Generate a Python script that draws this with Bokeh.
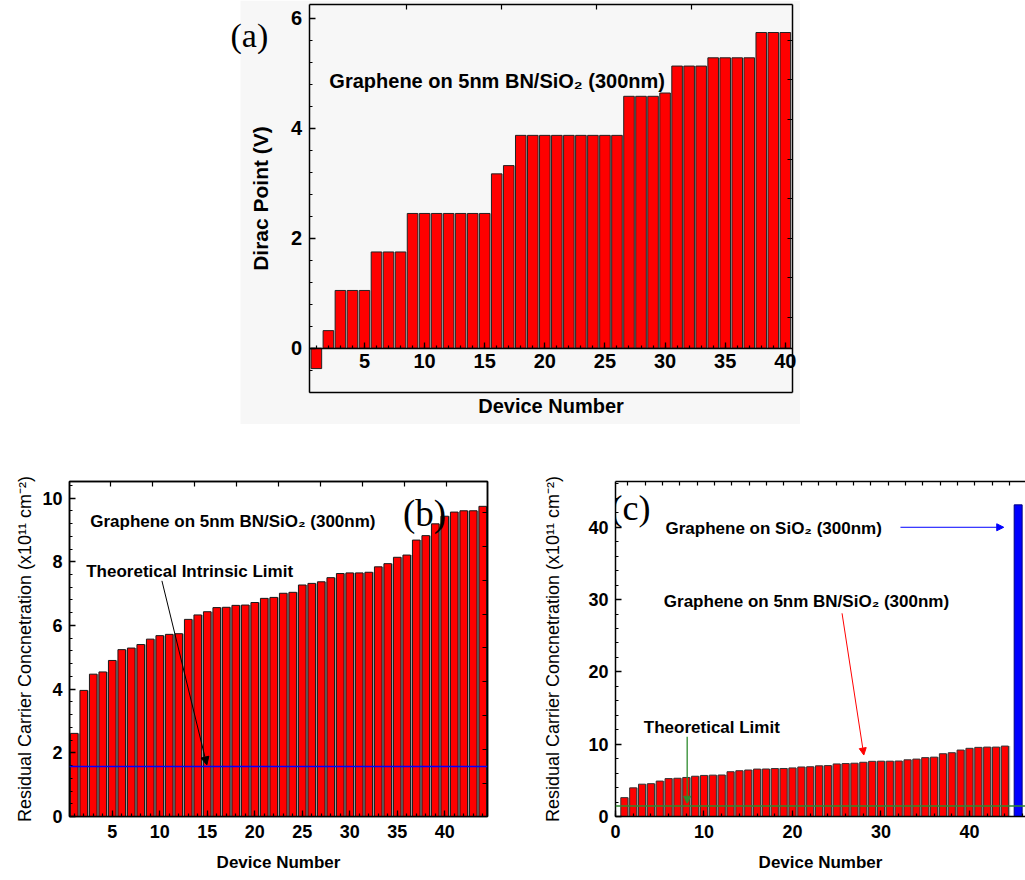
from bokeh.plotting import figure
from bokeh.models import (Range1d, LinearAxis, FixedTicker, SingleIntervalTicker, Span, Label,
                          Arrow, NormalHead, ColumnDataSource, Spacer, BoxAnnotation)
from bokeh.layouts import column, row
from bokeh.transform import dodge
from bokeh.embed import file_html
from bokeh.resources import INLINE
import numpy as np

# ---------------- data ----------------
device_a = list(range(1, 41))
dirac_point = [-0.37, 0.32, 1.05, 1.05, 1.05, 1.75, 1.75, 1.75,
               2.45, 2.45, 2.45, 2.45, 2.45, 2.45, 2.45, 3.17, 3.32,
               3.87, 3.87, 3.87, 3.87, 3.87, 3.87, 3.87, 3.87, 3.87,
               4.58, 4.58, 4.58, 4.64, 5.13, 5.13, 5.13,
               5.28, 5.28, 5.28, 5.28, 5.74, 5.74, 5.74]

device_b = list(range(1, 45))
residual = [2.61, 3.96, 4.47, 4.54, 4.90, 5.24, 5.29, 5.40, 5.57, 5.68, 5.72, 5.74,
            6.19, 6.33, 6.43, 6.56, 6.57, 6.63, 6.64, 6.72, 6.85, 6.88, 7.01, 7.04,
            7.27, 7.32, 7.37, 7.50, 7.63, 7.65, 7.65, 7.67, 7.84, 7.94, 8.14, 8.21,
            8.68, 8.82, 9.19, 9.43, 9.56, 9.60, 9.60, 9.74]

sio2_device = [45.5]
sio2_value = [43.1]

limit_b = 1.57
limit_c = 1.45

label_bn = "Graphene on 5nm BN/SiO\u2082 (300nm)"
label_sio2 = "Graphene on SiO\u2082 (300nm)"
label_intrinsic = "Theoretical Intrinsic Limit"
label_limit = "Theoretical Limit"
ylabel_a = "Dirac Point (V)"
ylabel_bc = "Residual Carrier Concnetration (x10\u00b9\u00b9 cm\u207b\u00b2)"
xlabel = "Device Number"

FONT = "Liberation Sans"
SERIF = "Liberation Serif"


def style_axis(ax, tick_size="18px", label_size="17px", label_bold=True):
    ax.major_label_text_font = FONT
    ax.major_label_text_font_style = "bold"
    ax.major_label_text_font_size = tick_size
    ax.major_label_text_color = "black"
    ax.axis_label_text_font = FONT
    ax.axis_label_text_font_style = "bold" if label_bold else "normal"
    ax.axis_label_text_font_size = label_size
    ax.axis_label_text_color = "black"
    ax.major_tick_in = 6
    ax.major_tick_out = 0
    ax.minor_tick_in = 3
    ax.minor_tick_out = 0
    ax.axis_line_width = 1.5
    ax.axis_line_color = "black"
    ax.major_tick_line_width = 1.3
    ax.minor_tick_line_width = 1.2


def tick_axis(ticks, length=5, **kw):
    return LinearAxis(ticker=FixedTicker(ticks=[float(t) for t in ticks]),
                      major_label_text_color=None, major_label_standoff=0,
                      major_tick_in=length, major_tick_out=0,
                      minor_tick_in=0, minor_tick_out=0,
                      axis_line_width=1.5, major_tick_line_width=1.2, **kw)


def add_label(p, x, y, text, size, font=FONT, bold=True, color="black"):
    p.add_layout(Label(x=x, y=y, text=text, text_font=font, text_font_size=size,
                       text_font_style="bold" if bold else "normal",
                       text_baseline="middle", text_align="left", text_color=color))


# ---------------- panel (a) ----------------
# the frame covers the whole figure; the visible axes box is drawn by fixed axes
BG_A = "#f7f7f7"
XA0, XA1 = 0.4, 40.6
YA0, YA1 = -0.805, 6.249
pa = figure(width=572, height=424, x_range=Range1d(-6.308, 41.263), y_range=Range1d(-1.387, 6.322),
            output_backend="svg", toolbar_location=None,
            x_axis_location=None, y_axis_location=None, min_border=0,
            background_fill_color="white", border_fill_color="white")
pa.grid.visible = False
pa.outline_line_color = None
pa.add_layout(BoxAnnotation(left=-5.31, fill_color=BG_A, fill_alpha=1.0,
                            line_color=None, level="underlay"))

src_a = ColumnDataSource(dict(x=device_a, top=dirac_point))
pa.vbar(x="x", top="top", bottom=0, width=0.88, source=src_a,
        fill_color="#ff0000", line_color="#222222", line_width=1)

ax_left = LinearAxis(fixed_location=XA0, bounds=(YA0, YA1),
                     ticker=SingleIntervalTicker(interval=2, num_minor_ticks=5),
                     axis_label=ylabel_a)
style_axis(ax_left, "20px", "21px")
ax_left.major_label_standoff = 7
ax_left.axis_label_standoff = 16
pa.add_layout(ax_left, "left")

ax_zero = LinearAxis(fixed_location=0, bounds=(XA0, XA1),
                     ticker=SingleIntervalTicker(interval=5, num_minor_ticks=5))
style_axis(ax_zero, "20px", "20px")
ax_zero.major_label_standoff = 6
pa.add_layout(ax_zero, "below")

ax_bottom = LinearAxis(fixed_location=YA0, bounds=(XA0, XA1), ticker=FixedTicker(ticks=[]),
                       axis_label=xlabel)
style_axis(ax_bottom, "20px", "20px")
ax_bottom.major_label_standoff = 0
ax_bottom.axis_label_standoff = 2
pa.add_layout(ax_bottom, "below")

pa.add_layout(tick_axis(np.arange(8.5, 40, 7.9), fixed_location=YA1, bounds=(XA0, XA1)), "above")
pa.add_layout(tick_axis(np.arange(0.56, 6.0, 0.72), fixed_location=XA1, bounds=(YA0, YA1)), "right")

add_label(pa, -6.14, 5.69, "(a)", "34px", font=SERIF, bold=False)
add_label(pa, 2.08, 4.85, label_bn, "20px")

# ---------------- panel (b) ----------------
pb = figure(width=535, height=456, x_range=Range1d(0.5, 44.5), y_range=Range1d(0, 10.52),
            output_backend="svg", toolbar_location=None,
            min_border_left=69, min_border_right=48, min_border_top=54, min_border_bottom=64)
pb.grid.visible = False
pb.outline_line_color = "black"
pb.outline_line_width = 1.5

src_b = ColumnDataSource(dict(x=device_b, top=residual))
pb.vbar(x=dodge("x", 0.2), top="top", bottom=0, width=0.8, source=src_b,
        fill_color="#a8a8a8", line_color=None)
pb.vbar(x="x", top="top", bottom=0, width=0.8, source=src_b,
        fill_color="#ff0000", line_color="#1a1a1a", line_width=1)
pb.add_layout(Span(location=limit_b, dimension="width", line_color="#0000ff", line_width=1.5))

pb.xaxis.ticker = SingleIntervalTicker(interval=5, num_minor_ticks=5)
pb.yaxis.ticker = SingleIntervalTicker(interval=2, num_minor_ticks=5)
for ax in pb.xaxis + pb.yaxis:
    style_axis(ax)
pb.xaxis.axis_label = xlabel
pb.xaxis.major_label_standoff = 8
pb.xaxis.axis_label_standoff = 12
pb.yaxis.axis_label = ylabel_bc
pb.yaxis.axis_label_text_font_style = "normal"
pb.yaxis.axis_label_text_font_size = "18px"
pb.yaxis.major_label_standoff = 7
pb.yaxis.axis_label_standoff = 4
pb.add_layout(tick_axis(np.arange(4.78, 44.5, 4.42)), "above")
pb.add_layout(tick_axis(np.arange(1.04, 10.5, 1.063)), "right")

add_label(pb, 2.68, 9.25, label_bn, "17px")
add_label(pb, 2.26, 7.69, label_intrinsic, "17px")
add_label(pb, 35.6, 9.5, "(b)", "37px", font=SERIF, bold=False)
pb.add_layout(Arrow(end=NormalHead(size=8, fill_color="black", line_color="black"),
                    x_start=10.23, y_start=7.40, x_end=14.96, y_end=1.62,
                    line_color="black", line_width=1))

# ---------------- panel (c) ----------------
pc = figure(width=490, height=456, x_range=Range1d(0, 46.33), y_range=Range1d(0, 46.33),
            output_backend="svg", toolbar_location=None,
            min_border_left=80, min_border_right=0, min_border_top=57, min_border_bottom=64)
pc.grid.visible = False
pc.outline_line_color = None

pc.vbar(x=dodge("x", 0.2), top="top", bottom=0, width=0.8, source=src_b,
        fill_color="#b0b0b0", line_color=None)
pc.vbar(x="x", top="top", bottom=0, width=0.8, source=src_b,
        fill_color="#ff0000", line_color="#333333", line_width=1)
src_c = ColumnDataSource(dict(x=sio2_device, top=sio2_value))
pc.vbar(x="x", top="top", bottom=0, width=0.9, source=src_c,
        fill_color="#0000ff", line_color="#000080", line_width=1)
pc.add_layout(Span(location=limit_c, dimension="width", line_color="#2e8b2e", line_width=1.5))

pc.xaxis.ticker = SingleIntervalTicker(interval=10, num_minor_ticks=5)
pc.yaxis.ticker = SingleIntervalTicker(interval=10, num_minor_ticks=5)
for ax in pc.xaxis + pc.yaxis:
    style_axis(ax)
pc.xaxis.axis_label = xlabel
pc.xaxis.major_label_standoff = 8
pc.xaxis.axis_label_standoff = 12
pc.yaxis.axis_label = ylabel_bc
pc.yaxis.axis_label_text_font_style = "normal"
pc.yaxis.axis_label_text_font_size = "18px"
pc.yaxis.major_label_standoff = 7
pc.yaxis.axis_label_standoff = 22
pc.add_layout(tick_axis(np.arange(1.4, 46.0, 1.96), length=4), "above")

add_label(pc, -0.56, 42.6, "(c)", "36px", font=SERIF, bold=False)
add_label(pc, 5.65, 39.8, label_sio2, "17px")
add_label(pc, 5.46, 29.7, label_bn, "17px")
add_label(pc, 3.2, 12.34, label_limit, "17px")
pc.add_layout(Arrow(end=NormalHead(size=7, fill_color="#0000ff", line_color="#0000ff"),
                    x_start=32.2, y_start=40.0, x_end=43.87, y_end=40.0,
                    line_color="#0000ff", line_width=1))
pc.add_layout(Arrow(end=NormalHead(size=7, fill_color="#ff0000", line_color="#ff0000"),
                    x_start=25.6, y_start=28.1, x_end=28.06, y_end=8.5,
                    line_color="#ff0000", line_width=1))
pc.add_layout(Arrow(end=NormalHead(size=7, fill_color="#2e8b2e", line_color="#2e8b2e"),
                    x_start=8.1, y_start=11.04, x_end=8.1, y_end=1.83,
                    line_color="#2e8b2e", line_width=1.3))

layout = column(row(Spacer(width=228, height=424), pa), row(pb, pc))

with open("out.html", "w") as f:
    f.write(file_html(layout, INLINE))
